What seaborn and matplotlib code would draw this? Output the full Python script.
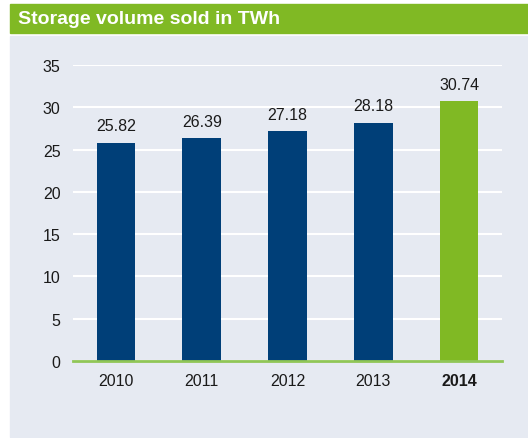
import pandas as pd
import matplotlib.pyplot as plt
import seaborn as sns
from matplotlib.patches import Rectangle

# Data
years = ['2010', '2011', '2012', '2013', '2014']
volume_twh = [25.82, 26.39, 27.18, 28.18, 30.74]
bar_colors = ['#003f78', '#003f78', '#003f78', '#003f78', '#80b924']

df = pd.DataFrame({'Year': years, 'TWh': volume_twh})

sns.set_theme(style='white')
plt.rcParams['font.family'] = ['Liberation Sans', 'DejaVu Sans']

W, H = 528, 439
fig = plt.figure(figsize=(W / 100, H / 100), dpi=100)
fig.patch.set_facecolor('white')

# Light panel and green header band (figure coordinates)
panel_bg = '#e6eaf2'
fig.add_artist(Rectangle((10 / W, 1 - 438 / H), 1 - 10 / W, (438 - 37) / H,
                         transform=fig.transFigure, color=panel_bg, zorder=0))
fig.add_artist(Rectangle((10 / W, 1 - 34 / H), 1 - 10 / W, (34 - 5) / H,
                         transform=fig.transFigure, color='#80b924', zorder=0))
fig.text(18 / W, 1 - 19.5 / H, 'Storage volume sold in TWh', color='white',
         fontsize=14, fontweight='bold', va='center', ha='left')

ax = fig.add_axes([73 / W, 1 - 362 / H, (502 - 73) / W, (362 - 66) / H])
ax.set_facecolor(panel_bg)

sns.barplot(data=df, x='Year', y='TWh', hue='Year', palette=bar_colors,
            width=0.45, saturation=1, linewidth=0, legend=False, ax=ax, zorder=3)

ax.set_ylim(0, 35)
ax.set_yticks(range(0, 36, 5))
ax.yaxis.grid(True, color='white', linewidth=1.5, zorder=0)
ax.set_axisbelow(True)
for s in ['top', 'right', 'left']:
    ax.spines[s].set_visible(False)
ax.spines['bottom'].set_color('#90c657')
ax.spines['bottom'].set_linewidth(2)
ax.spines['bottom'].set_zorder(4)

ax.tick_params(axis='both', length=0, labelsize=11.5, labelcolor='#1a1a1a')
ax.tick_params(axis='x', pad=9)
ax.tick_params(axis='y', pad=9)
ax.set_xlabel('')
ax.set_ylabel('')
ax.get_xticklabels()[-1].set_fontweight('bold')

# Value labels above the bars
for i, v in enumerate(volume_twh):
    ax.text(i, v + 1.1, f'{v:.2f}', ha='center', va='bottom', fontsize=11.5, color='#1a1a1a')

fig.savefig('out.png', dpi=100)
